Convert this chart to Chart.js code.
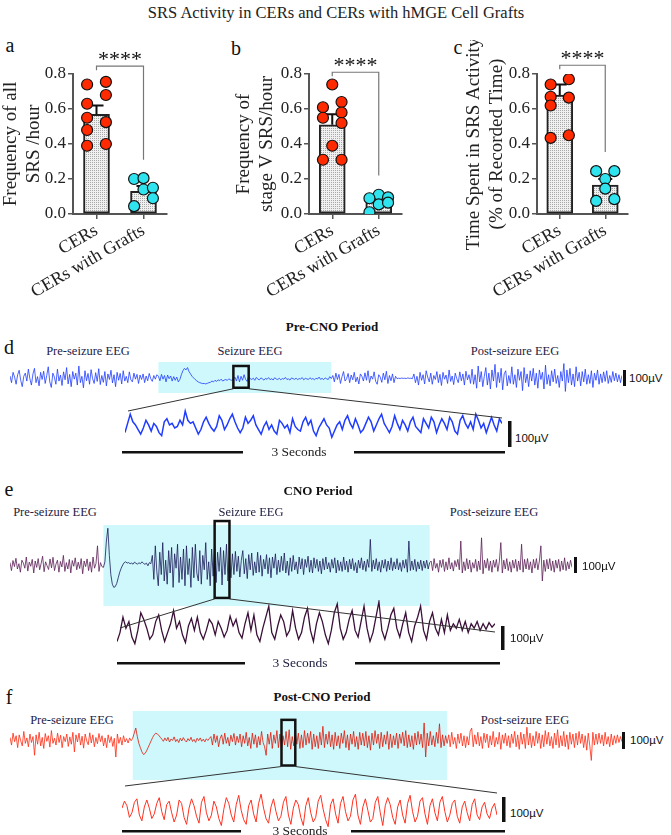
<!DOCTYPE html>
<html>
<head>
<meta charset="utf-8">
<script src="https://cdn.jsdelivr.net/npm/chart.js@4.4.1/dist/chart.umd.min.js"></script>
<style>
body { margin: 0; background: #fff; }
#page { position: relative; width: 671px; height: 835px; overflow: hidden; font-family: "Liberation Serif", "Times New Roman", serif; color: #222; }
#page canvas { position: absolute; }
.t { position: absolute; white-space: nowrap; transform: translate(-50%, -50%); }
.l { position: absolute; white-space: nowrap; transform: translate(0, -50%); }
.uv { font-family: "Liberation Sans", Arial, sans-serif; font-size: 11.5px; color: #111; }
.eeg { font-size: 12.5px; color: #222244; }
.per { font-size: 13px; font-weight: bold; color: #111; }
.let { font-size: 20px; color: #111; }
svg { position: absolute; left: 0; top: 0; }
</style>
</head>
<body>
<div id="page">
  <div class="t" style="left:336px;top:13px;font-size:16.5px;">SRS Activity in CERs and CERs with hMGE Cell Grafts</div>
  <div class="t let" style="left:10px;top:45px;">a</div>
  <div class="t let" style="left:236px;top:48px;">b</div>
  <div class="t let" style="left:458px;top:47px;">c</div>

  <canvas id="barA" width="225" height="265" style="left:0px;top:40px;"></canvas>
  <canvas id="barB" width="225" height="265" style="left:225px;top:40px;"></canvas>
  <canvas id="barC" width="221" height="265" style="left:450px;top:40px;"></canvas>

  <div class="t let" style="left:9px;top:347px;">d</div>
  <div class="t per" style="left:332px;top:327px;">Pre-CNO Period</div>
  <div class="t eeg" style="left:88px;top:351px;">Pre-seizure EEG</div>
  <div class="t eeg" style="left:250px;top:351px;">Seizure EEG</div>
  <div class="t eeg" style="left:515px;top:351px;">Post-seizure EEG</div>
  <canvas id="eegD" width="612" height="31" style="left:10px;top:362px;"></canvas>
  <canvas id="zoomD" width="377" height="40" style="left:125px;top:408px;"></canvas>
  <div class="l uv" style="left:629px;top:378px;">100µV</div>
  <div class="l uv" style="left:515px;top:438px;">100µV</div>
  <div class="t" style="left:299px;top:452px;font-size:13.5px;">3 Seconds</div>

  <div class="t let" style="left:9px;top:489px;">e</div>
  <div class="t per" style="left:318px;top:491px;">CNO Period</div>
  <div class="t eeg" style="left:55px;top:512px;">Pre-seizure EEG</div>
  <div class="t eeg" style="left:251px;top:512px;">Seizure EEG</div>
  <div class="t eeg" style="left:494px;top:512px;">Post-seizure EEG</div>
  <canvas id="eegE" width="562" height="90" style="left:10px;top:518px;"></canvas>
  <canvas id="zoomE" width="378" height="52" style="left:117px;top:600px;"></canvas>
  <div class="l uv" style="left:582px;top:566px;">100µV</div>
  <div class="l uv" style="left:510px;top:638px;">100µV</div>
  <div class="t" style="left:300px;top:663px;font-size:13.5px;color:#222244;">3 Seconds</div>

  <div class="t let" style="left:9px;top:697px;">f</div>
  <div class="t per" style="left:322px;top:697px;">Post-CNO Period</div>
  <div class="t eeg" style="left:72px;top:720px;">Pre-seizure EEG</div>
  <div class="t eeg" style="left:301px;top:720px;">Seizure EEG</div>
  <div class="t eeg" style="left:525px;top:720px;">Post-seizure EEG</div>
  <canvas id="eegF" width="612" height="69" style="left:10px;top:711px;"></canvas>
  <canvas id="zoomF" width="375" height="36" style="left:122px;top:793px;"></canvas>
  <div class="l uv" style="left:630px;top:740px;">100µV</div>
  <div class="l uv" style="left:510px;top:813px;">100µV</div>
  <div class="t" style="left:300px;top:831px;font-size:13.5px;">3 Seconds</div>

  <svg id="overlay" width="671" height="835"></svg>
</div>

<script>
// ---- bar panels (a, b, c) ----
const groups = ["CERs", "CERs with Grafts"];

const meanA = [0.57, 0.13];
const semTopA = [0.62, 0.16];
const cerA = [0.74, 0.63, 0.55, 0.48, 0.39, 0.755, 0.68, 0.525, 0.40];
const cerColA = [-1, -1, -1, -1, -1, 1, 1, 1, 1];
const graftA = [0.20, 0.205, 0.14, 0.15, 0.09, 0.045];
const graftColA = [-1, 0, 0, 1, 1, -1];

const meanB = [0.51, 0.07];
const semTopB = [0.57, 0.09];
const cerB = [0.74, 0.61, 0.64, 0.58, 0.55, 0.52, 0.39, 0.31, 0.31];
const cerColB = [0, -1, 1, 1, -1, 1, 0, -1, 1];
const graftB = [0.11, 0.09, 0.095, 0.055, 0.065, 0.01];
const graftColB = [0, -1, 1, 0, 1, -1];

const meanC = [0.68, 0.165];
const semTopC = [0.74, 0.20];
const cerC = [0.74, 0.77, 0.67, 0.665, 0.62, 0.435, 0.45];
const cerColC = [-1, 1, -1, 1, -1, -1, 1];
const graftC = [0.245, 0.245, 0.2, 0.145, 0.075, 0.085];
const graftColC = [-1, 1, 0, 0, -1, 1];

const yTicks = [0, 0.2, 0.4, 0.6, 0.8];

// ---- EEG traces (µV), pre / seizure / post ----
const preD = [12,-30,35,5,-40,20,48,-15,-55,10,30,-20,55,-5,-45,25,60,-30,8,-50,
  35,-10,42,-35,15,70,-25,-60,30,5,-40,55,-20,18,-48,38,-12,65,-38,22,
  -55,40,-8,30,-45,75,-30,10,-62,45,-18,28,-40,52,-5,-35,33,-22,58,-42,
  15,-28,40,-50,25,-10,48,-32,20,-55,35,-15,28,-38,45,-20,10,-30,38,-12,
  -25,30,-8,22,-35,18,-10,25,-30,12,-18,28,-5,-22,15,-8,20];
const seizD = [10,-18,22,-8,15,-25,18,-5,12,-20,8,-15,5,
  -25,-10,20,45, 60,50,65,40,
  25,10,0,-10,-18,-25,-30,-33,-36,-35,-38,-34,-30,
  -28,-20,-25,-15,-22,-12,-18,-8,-20,-14,-10,-16,-6,-12,-15,-8,
  5,-20,15,-25,10,-15,20,-10,-22,12,-5,
  -10,-2,-15,3,-8,-12,0,-6,-14,-3,-9,2,-11,-5,-13,1,-7,-10,-2,-12,-4,-8,3,-10,-6,-14,0,-5,-9,-2,-11,-4,-7,2,-12,-3,-6,-10,1,-8,-4,-12,-2,-7,5,-9,-3,-11,0,-6,-10,8,-4];
const postD = [15,-25,30,-10,22,-35,8,40,-20,-5,28,-30,18,-12,35,-25,5,-38,25,10,-20,32,-15,45,-30,12,-8,38,-22,-40,20,5,-28,30,-12,42,-35,15,-18,25,-30,10,
  -5,-2,-4,-1,-3,-2,-4,0,-3,-2,-5,
  25,-30,10,-45,35,-15,20,-38,45,5,-25,30,-40,15,-10,40,-30,22,-48,35,-8,18,-35,50,-22,12,-42,30,-5,-30,38,-18,25,-45,42,-12,20,-35,
  55,-40,20,-65,75,-25,40,-55,10,65,-45,30,-70,50,-20,85,-60,35,-30,60,-75,25,45,-50,15,-35,70,-40,20,-60,55,-15,40,-80,65,-30,25,-55,45,-20,60,-45,30,-65,50,-10,35,-70,80,-40,20,-50,45,-25,55,-35,15,-60,40,-20,
  90,-85,50,-30,60,-45,25,-55,70,-20,35,-50,40,-25,55,-40,20,-35,45,-60,30,-15,50,-40,25,-30,38,-22,45,-35,15,-28,40,-18,30,-25,20,-30,15];
const zoomIdxD = [146, 156];
const insetD = [-20,10,40,15,5,-10,-25,-5,20,5,-15,10,0,-20,-30,15,25,5,10,-5,
  0,20,5,50,20,10,15,-5,-25,-10,15,30,10,-5,-15,0,35,20,-10,5,
  25,40,15,-5,-20,-5,30,10,20,35,5,-10,-25,0,15,-10,5,-15,-25,20,
  10,-5,5,-20,25,0,-10,-15,15,30,5,20,-15,-30,-5,10,25,5,-5,-35,
  -15,5,15,-10,20,35,10,-5,25,5,-20,-10,10,30,15,-15,5,25,40,10,
  -5,-20,0,35,10,-10,20,5,-15,15,30,0,-10,-20,25,10,-5,30,15,-20,
  5,25,10,-10,30,15,-15,-25,20,35,10,-5,15,-10,40,20,-5,10,-20,5,
  30,5,-15,25,10];

const preE = [15,-35,28,-10,42,-25,8,-45,30,12,-20,50,-38,18,-8,35,-50,25,-15,40,
  -30,10,55,-42,20,-5,-28,38,-18,48,-35,5,30,-45,22,-12,60,-40,15,-25,
  35,-50,28,-8,45,-30,18,-22,40,-55,25,-10,38,-35,20,-45,50,-20,10,120,
  -40,15,-10];
const seizE = [-15,20, 150,230,60, -60,-120,-140,-135,-115,-80,-45, -20,0,15,20,12,
  15,8,12,5,18,10,6,14,8,20,10,4,12,-5,15,8,
  60,-90,120,-40,-130,80,-60,140,-100,30,-120,90,-50,110,-140,70,-20,130,-110,50,
  -90,100,-130,120,-60,40,-140,110,-80,130,-50,-100,90,-120,60,-30,140,-90,20,-130,
  100,-70,120,-110,80,-40,110,-125,90,-60,130,-100,50,-80,
  70,-60,85,-40,55,-75,30,90,-55,40,-85,65,-30,75,-65,20,-50,80,-45,60,
  -70,35,-25,65,-55,45,-80,50,-20,70,-60,30,-45,55,-35,75,-50,25,-65,45,
  -40,60,-30,20,-55,50,-25,40,-60,35,-15,55,-45,30,-50,45,-20,35,-40,25,
  -55,40,-30,50,-25,15,-45,35,-20,45,-50,30,-35,20,-40,50,-30,25,-45,35,
  -25,40,-35,15,-50,30,-20,45,-30,25,-40,35,-15,160,-40,30,-25,40,-35,20,
  -45,30,-20,35,-40,25,-30,45,-35,20,-25,40,-30,15,-40,30,-20,35,-45,150,
  -35,25,-30,35,-40,20,-25,30,-35,25,-20,30,-25,15];
const postE = [25,-35,40,-20,10,-45,30,-15,35,-40,20,-30,45,-25,15,-38,28,-10,35,-30,
  150,-50,20,-35,40,-25,30,-45,15,-20,35,-40,25,-30,170,-55,30,-20,40,-35,
  25,-45,30,-15,35,-40,20,140,-50,30,-25,40,-35,20,-45,30,-20,35,-40,25,
  -30,130,-45,35,-25,40,-30,20,-50,35,-20,40,-30,25,120,-100,30,-40,35,-25,
  40,-35,25,-45,30,-20,35,-40,25,-30,45,-35,20,-25,30,-15];
const zoomIdxE = [138, 148];
const insetE = [-70,-30,40,-10,20,-50,-80,-20,60,30,-10,-60,-40,20,50,-20,-70,-30,10,70,
  -10,20,-40,-75,0,35,-20,40,-30,-60,-20,30,10,-40,20,-10,-50,-20,45,0,
  30,-30,-55,10,60,-20,50,-40,-70,-10,40,90,-30,-60,0,50,20,-45,-20,70,
  -10,-60,-30,40,80,-20,-70,10,60,20,-40,-80,-20,60,100,-10,-60,-30,30,70,
  -20,-50,20,90,-10,-70,-30,40,110,-20,-60,-10,50,80,-10,-50,10,60,-30,-70,
  0,40,90,-20,-60,20,60,-10,-40,30,-30,50,-20,10,-10,30,-20,20,-30,10,
  -10,20,-20,10,-15,15,-5,10];

const preF = [15,-30,40,-10,25,-45,30,-5,-35,50,-20,12,-40,35,-15,20,-90,30,-25,45,
  -35,15,-50,38,-8,25,-42,55,-20,10,-30,40,-15,28,-45,20,-10,35,-38,18,
  -25,45,-70,30,-12,40,-30,22,-48,35,-5,-28,42,-18,30,-40,15,-22,38,-10,
  25,-35,12,-45,30,-15,20,-38,10,-100,35,-20,15,-30,25,-12,8,-18,12,-5];
const seizF = [10,40,70, 20,-20,-45, -70,-85,-80,-65,-45,-25,-5, 15,30,40,35,28,15,5,
  -8,12,-5,15,-12,6,-3,18,-10,4,-15,10,-6,14,-2,-12,8,-5,16,-9,3,-14,10,-4,12,-8,5,-11,7,-3,9,
  20,-30,35,-15,25,-40,10,30,-25,40,-20,15,-35,28,-10,38,-30,22,-15,35,
  -40,25,-20,45,-35,15,-50,40,-25,30,-45,20,-30,50,-15,-40,-90,35,-25,45,
  -50,30,-20,55,-45,35,-60,25,-30,50,-40,60,-55,20,-35,45,-25,40,-50,30,
  -45,55,-30,40,-20,50,-55,35,-40,25,-50,45,-30,80,-45,35,-25,50,-40,30,
  -55,45,-35,25,-50,40,-20,55,-45,30,-60,35,-25,50,-40,20,-55,45,-30,40,
  -35,50,-45,25,-60,40,-30,55,-20,35,-50,45,-40,30,-25,50,-55,35,-45,25,
  -30,40,-50,35,-20,45,-35,55,-45,30,-40,25,-55,40,-30,50,-25,35,-45,100,
  -100,40,-35,50,-30,25,-40,45,-20,95,-45,30,-35,25,-20];
const postF = [30,-40,45,-25,15,-50,35,-20,40,-35,25,-45,20,-30,50,70,-40,30,-25,45,
  -35,20,-50,40,-15,35,-45,25,-30,50,-40,15,-25,45,-55,30,-20,40,-35,25,
  -45,35,-20,50,-40,30,-55,45,-25,35,-50,75,-30,40,-45,25,-35,50,-20,40,
  -50,30,-40,55,-25,45,-35,20,-50,40,-30,60,-45,25,-35,50,-40,30,-55,45,
  -25,35,-45,40,-30,50,-20,35,-45,25,-60,40,-35,-120,45,-30,35,-25,40,-20,
  30,-35,45,-25,20,-40,35,-30,25,-20,30,-15,20,-10];
const zoomIdxF = [177, 186];
const insetF = [10,40,20,-30,-10,35,50,-20,-45,15,45,10,-35,-15,30,55,-5,-40,25,40,
  -10,-50,-20,45,30,-30,-60,10,50,20,-25,-55,35,60,-10,-45,-20,40,15,-35,
  -65,5,55,30,-20,-50,25,65,0,-40,-60,20,45,-15,-50,30,70,10,-35,-55,
  15,50,-5,-45,-25,35,60,-20,-60,10,45,25,-30,-65,20,55,-10,-50,-30,40,
  65,5,-40,-70,25,50,-15,-55,30,60,-5,-45,-25,45,70,-20,-60,15,50,0,
  -50,-35,35,60,-10,-65,20,55,25,-30,-60,15,45,-20,-55,30,65,-5,-50,-25,
  40,55,-15,-60,20,50,-10,-45,35,60,-5,-50,-20,30,45,-25,-55,15,40,-10,
  -45,25,50,-20,-40,15,35,-15,-35,10,30,-20];

const serif = "'Liberation Serif', 'Times New Roman', serif";

function dotPattern() {
  const p = document.createElement("canvas");
  p.width = 2;
  p.height = 2;
  const g = p.getContext("2d");
  g.fillStyle = "#f0f0f0";
  g.fillRect(0, 0, 2, 2);
  g.fillStyle = "#a8a8a8";
  g.fillRect(0, 0, 1, 1);
  return document.createElement("canvas").getContext("2d").createPattern(p, "repeat");
}

// error bars drawn right after the bars, below the points
const errorBars = {
  id: "errorBars",
  afterDatasetDraw(chart, args, opts) {
    if (args.meta.type !== "bar") return;
    const ctx = chart.ctx;
    const y = chart.scales.y;
    ctx.save();
    ctx.strokeStyle = "#111";
    ctx.lineWidth = 2;
    args.meta.data.forEach((bar, i) => {
      const top = y.getPixelForValue(opts.tops[i]);
      ctx.beginPath();
      ctx.moveTo(bar.x, bar.y);
      ctx.lineTo(bar.x, top);
      ctx.moveTo(bar.x - 7, top);
      ctx.lineTo(bar.x + 7, top);
      ctx.stroke();
    });
    ctx.restore();
  },
};

const bracket = {
  id: "bracket",
  afterDraw(chart, args, opts) {
    const ctx = chart.ctx;
    const x = chart.scales.x;
    const y = chart.scales.y;
    const x0 = x.getPixelForValue(0);
    const x1 = x.getPixelForValue(1);
    const yt = y.getPixelForValue(opts.top);
    ctx.save();
    ctx.strokeStyle = "#777";
    ctx.lineWidth = 1.2;
    ctx.beginPath();
    ctx.moveTo(x0, yt + 4);
    ctx.lineTo(x0, yt);
    ctx.lineTo(x1, yt);
    ctx.lineTo(x1, y.getPixelForValue(opts.end));
    ctx.stroke();
    ctx.fillStyle = "#111";
    ctx.font = "22px " + serif;
    ctx.textAlign = "center";
    ctx.textBaseline = "alphabetic";
    ctx.fillText("****", (x0 + x1) / 2, yt);
    ctx.restore();
  },
};

function points(vals, cols, group) {
  return vals.map((v, i) => ({ x: group + cols[i] * 0.2, y: v }));
}

function makeBar(id, cfg) {
  new Chart(document.getElementById(id), {
    type: "bar",
    data: {
      datasets: [
        {
          type: "scatter",
          data: points(cfg.cer, cfg.cerCol, 0),
          backgroundColor: "#ff2a00",
          borderColor: "#111",
          borderWidth: 1.2,
          pointRadius: 5.5,
          order: 0,
        },
        {
          type: "scatter",
          data: points(cfg.graft, cfg.graftCol, 1),
          backgroundColor: "#2fe4ee",
          borderColor: "#111",
          borderWidth: 1.2,
          pointRadius: 5.5,
          order: 0,
        },
        {
          type: "bar",
          data: cfg.mean.map((m, i) => ({ x: i, y: m })),
          backgroundColor: dotPattern(),
          borderColor: "#222",
          borderWidth: 2,
          borderSkipped: false,
          barThickness: 26,
          order: 2,
        },
      ],
    },
    options: {
      responsive: false,
      animation: false,
      devicePixelRatio: 1,
      events: [],
      layout: { padding: { top: 34, right: cfg.padRight, left: cfg.padLeft, bottom: 0 } },
      plugins: {
        legend: { display: false },
        tooltip: { enabled: false },
        errorBars: { tops: cfg.semTop },
        bracket: { top: cfg.bracketTop, end: cfg.bracketEnd },
      },
      scales: {
        x: {
          type: "linear",
          min: -0.5,
          max: 1.5,
          offset: false,
          afterBuildTicks: (s) => { s.ticks = [{ value: 0 }, { value: 1 }]; },
          grid: { drawOnChartArea: false, offset: false, tickLength: 5, color: "#555", lineWidth: 1.5 },
          border: { color: "#555", width: 2 },
          ticks: { minRotation: 30, maxRotation: 30, autoSkip: false, color: "#222", font: { family: serif, size: 18 }, padding: 1, callback: (v) => groups[v] },
          afterFit: (s) => { s.height = 91; },
        },
        y: {
          min: 0,
          max: 0.8,
          afterBuildTicks: (s) => { s.ticks = yTicks.map((v) => ({ value: v })); },
          ticks: { color: "#222", font: { family: serif, size: 17 }, padding: 2, callback: (v) => v.toFixed(1) },
          grid: { drawOnChartArea: false, tickLength: 5, color: "#555", lineWidth: 1.5 },
          border: { color: "#555", width: 2 },
          title: { display: true, text: cfg.title, color: "#222", font: { family: serif, size: 19, lineHeight: 1.2 }, padding: 0 },
          afterFit: (s) => { s.width = cfg.axisW; },
        },
      },
    },
    plugins: [errorBars, bracket],
  });
}

makeBar("barA", {
  mean: meanA, semTop: semTopA, cer: cerA, cerCol: cerColA, graft: graftA, graftCol: graftColA,
  title: ["Frequency of all", "SRS /hour"], padLeft: 0, axisW: 73, padRight: 58, bracketTop: 0.845, bracketEnd: 0.31,
});
makeBar("barB", {
  mean: meanB, semTop: semTopB, cer: cerB, cerCol: cerColB, graft: graftB, graftCol: graftColB,
  title: ["Frequency of", "stage V SRS/hour"], padLeft: 8, axisW: 76, padRight: 48, bracketTop: 0.81, bracketEnd: 0.22,
});
makeBar("barC", {
  mean: meanC, semTop: semTopC, cer: cerC, cerCol: cerColC, graft: graftC, graftCol: graftColC,
  title: ["Time Spent in SRS Activity", "(% of Recorded Time)"], padLeft: 13, axisW: 74, padRight: 43, bracketTop: 0.85, bracketEnd: 0.355,
});

// ---- EEG panels ----
const overlay = document.getElementById("overlay");
function svgEl(tag, attrs) {
  const el = document.createElementNS("http://www.w3.org/2000/svg", tag);
  for (const k in attrs) el.setAttribute(k, attrs[k]);
  overlay.appendChild(el);
  return el;
}

const seizureBand = {
  id: "seizureBand",
  beforeDatasetsDraw(chart, args, opts) {
    if (!opts.range) return;
    const ctx = chart.ctx;
    const x = chart.scales.x;
    const y = chart.scales.y;
    ctx.save();
    ctx.fillStyle = "#cff8fc";
    const x0 = x.getPixelForValue(opts.range[0]);
    const x1 = x.getPixelForValue(opts.range[1]);
    const y0 = y.getPixelForValue(opts.band[1]);
    const y1 = y.getPixelForValue(opts.band[0]);
    ctx.fillRect(x0, y0, x1 - x0, y1 - y0);
    ctx.restore();
  },
  afterDatasetsDraw(chart, args, opts) {
    if (!opts.zoom) return;
    const ctx = chart.ctx;
    const x = chart.scales.x;
    const y = chart.scales.y;
    ctx.save();
    ctx.strokeStyle = "#111";
    ctx.lineWidth = 2.5;
    const x0 = x.getPixelForValue(opts.zoom[0]);
    const x1 = x.getPixelForValue(opts.zoom[1]);
    const y0 = y.getPixelForValue(opts.zoomBand[1]);
    const y1 = y.getPixelForValue(opts.zoomBand[0]);
    ctx.strokeRect(x0, y0, x1 - x0, y1 - y0);
    ctx.restore();
  },
};

function makeTrace(id, values, cfg) {
  return new Chart(document.getElementById(id), {
    type: "line",
    data: {
      labels: values.map((v, i) => i),
      datasets: [
        {
          data: values,
          borderColor: cfg.color,
          borderWidth: cfg.width,
          pointRadius: 0,
          tension: 0,
          clip: false,
          segment: cfg.segColor ? { borderColor: cfg.segColor } : undefined,
        },
      ],
    },
    options: {
      responsive: false,
      animation: false,
      devicePixelRatio: 1,
      events: [],
      layout: { padding: 0 },
      plugins: {
        legend: { display: false },
        tooltip: { enabled: false },
        seizureBand: cfg.band || {},
      },
      scales: {
        x: { display: false },
        y: { display: false, min: cfg.min, max: cfg.max },
      },
    },
    plugins: [seizureBand],
  });
}

function panel(p) {
  const trace = [...p.pre, ...p.seiz, ...p.post];
  const s0 = p.pre.length;
  const s1 = p.pre.length + p.seiz.length - 1;
  const main = makeTrace(p.mainId, trace, {
    color: p.color, width: p.width, min: p.range[0], max: p.range[1],
    segColor: p.seizColor ? (ctx) => (ctx.p0DataIndex >= s0 && ctx.p0DataIndex < s1 ? p.seizColor : p.color) : null,
    band: { range: [s0, s1], band: p.band, zoom: p.zoom, zoomBand: p.zoomBand },
  });
  makeTrace(p.insetId, p.inset, { color: p.insetColor, width: p.insetWidth, min: p.insetRange[0], max: p.insetRange[1] });

  // connector lines from the zoom box to the inset
  const mc = document.getElementById(p.mainId);
  const ic = document.getElementById(p.insetId);
  const mx = mc.offsetLeft, my = mc.offsetTop;
  const zx0 = mx + main.scales.x.getPixelForValue(p.zoom[0]);
  const zx1 = mx + main.scales.x.getPixelForValue(p.zoom[1]);
  const zy = my + main.scales.y.getPixelForValue(p.zoomBand[0]) + 1;
  svgEl("line", { x1: zx0, y1: zy, x2: ic.offsetLeft + 3, y2: ic.offsetTop + p.joinY[0], stroke: "#333", "stroke-width": 1 });
  svgEl("line", { x1: zx1, y1: zy, x2: ic.offsetLeft + ic.width, y2: ic.offsetTop + p.joinY[1], stroke: "#333", "stroke-width": 1 });

  // scale bars and time bars
  p.bars.forEach((b) => svgEl("rect", { x: b[0], y: b[1], width: b[2], height: b[3], fill: "#111" }));
}

panel({
  mainId: "eegD", insetId: "zoomD",
  pre: preD, seiz: seizD, post: postD, inset: insetD,
  color: "#1f3cff", width: 0.8, range: [-95, 100], band: [-95, 100],
  zoom: zoomIdxD, zoomBand: [-62, 75],
  insetColor: "#1f3cff", insetWidth: 1.5, insetRange: [-70, 60],
  joinY: [3, 10],
  bars: [[623, 370, 3, 16], [508, 421, 3.5, 26], [122, 451, 121, 2.5], [354, 451, 151, 2.5]],
});

panel({
  mainId: "eegE", insetId: "zoomE",
  pre: preE, seiz: seizE, post: postE, inset: insetE,
  color: "#5a1f55", seizColor: "#1a1a58", width: 0.8, range: [-269, 294], band: [-256, 250],
  zoom: zoomIdxE, zoomBand: [-206, 275],
  insetColor: "#3a1038", insetWidth: 1.3, insetRange: [-118, 118],
  joinY: [28, 32],
  bars: [[574, 557, 3, 16], [501, 626, 3.5, 24], [117, 662, 128, 2.5], [355, 662, 145, 2.5]],
});

panel({
  mainId: "eegF", insetId: "zoomF",
  pre: preF, seiz: seizF, post: postF, inset: insetF,
  color: "#ff2a10", seizColor: "#e01808", width: 0.8, range: [-235, 170], band: [-235, 170],
  zoom: zoomIdxF, zoomBand: [-150, 118],
  insetColor: "#ff3020", insetWidth: 1, insetRange: [-80, 75],
  joinY: [-7, 0],
  bars: [[622, 732, 3, 17], [502, 797, 3.5, 25], [122, 830, 119, 2.5], [351, 830, 154, 2.5]],
});
</script>
</body>
</html>
